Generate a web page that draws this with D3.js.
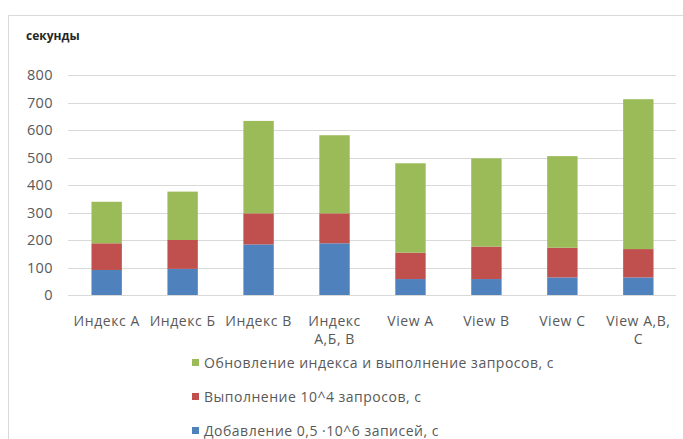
<!DOCTYPE html>
<html>
<head>
<meta charset="utf-8">
<script src="https://cdn.jsdelivr.net/npm/d3@7"></script>
<style>
  html, body { margin: 0; padding: 0; background: #fff; }
  svg { display: block; }
  text { font-family: "Open Sans", Lato, sans-serif; }
</style>
</head>
<body>
<svg id="chart" width="683" height="439"></svg>
<script>
// Categories (multi-line labels are split on "|")
const categories = ["Индекс А", "Индекс Б", "Индекс В", "Индекс|А,Б, В", "View A", "View B", "View C", "View A,B,|C"];

// Stacked segment values, seconds (bottom to top)
const insertTimes = [91, 95, 184, 188, 58, 58, 64, 64];      // Добавление 0,5·10^6 записей
const queryTimes  = [97, 105, 113, 109, 96, 118, 108, 103];  // Выполнение 10^4 запросов
const updateTimes = [151, 176, 336, 284, 325, 321, 333, 545]; // Обновление индекса и выполнение запросов

const yTicks = [0, 100, 200, 300, 400, 500, 600, 700, 800];

const seriesNames = [
  "Добавление 0,5 ·10^6 записей, с",
  "Выполнение 10^4 запросов, с",
  "Обновление индекса и выполнение запросов, с"
];
const seriesColors = ["#4f81bd", "#c0504d", "#9bbb59"];

const svg = d3.select("#chart");

// chart frame
svg.append("path")
  .attr("d", "M8.5,439 V15.5 H683")
  .attr("fill", "none")
  .attr("stroke", "#d9d9d9")
  .attr("stroke-width", 1);

svg.append("text")
  .attr("x", 26).attr("y", 40)
  .attr("font-size", 12).attr("font-weight", "bold")
  .attr("font-family", "Lato, sans-serif")
  .attr("fill", "#262626")
  .text("секунды");

const x = d3.scaleBand()
  .domain(categories)
  .range([68.7, 676.3])
  .paddingInner(0.6)
  .paddingOuter(0.3);

const y = d3.scaleLinear().domain([0, 800]).range([295, 75]);

// gridlines
svg.append("g")
  .selectAll("line")
  .data(yTicks)
  .join("line")
  .attr("x1", 68).attr("x2", 676)
  .attr("y1", d => Math.round(y(d)) + 0.5)
  .attr("y2", d => Math.round(y(d)) + 0.5)
  .attr("stroke", "#d9d9d9");

// y axis labels
const yAxis = d3.axisLeft(y).tickValues(yTicks).tickSize(0).tickPadding(0);
const yg = svg.append("g").attr("transform", "translate(53,0)").call(yAxis);
yg.select(".domain").remove();
yg.selectAll("text")
  .attr("font-size", 14.5)
  .attr("font-family", "'Open Sans', Lato, sans-serif")
  .attr("letter-spacing", 0.4)
  .attr("fill", "#595959");

// stacked bars
const rows = categories.map((c, i) => ({ cat: c, s0: insertTimes[i], s1: queryTimes[i], s2: updateTimes[i] }));
const stack = d3.stack().keys(["s0", "s1", "s2"]);
const layers = stack(rows);

svg.append("g")
  .selectAll("g")
  .data(layers)
  .join("g")
  .attr("fill", (d, i) => seriesColors[i])
  .selectAll("rect")
  .data(d => d)
  .join("rect")
  .attr("x", d => x(d.data.cat))
  .attr("width", x.bandwidth())
  .attr("y", d => y(d[1]))
  .attr("height", d => y(d[0]) - y(d[1]));

// x axis labels
const xAxis = d3.axisBottom(x).tickSize(0).tickPadding(0).tickFormat("");
const xg = svg.append("g").attr("transform", "translate(0,295)").call(xAxis);
xg.select(".domain").remove();
xg.selectAll(".tick").each(function(d) {
  const t = d3.select(this).append("text")
    .attr("text-anchor", "middle")
    .attr("font-size", 14)
    .attr("letter-spacing", 0.55)
    .attr("fill", "#595959");
  d.split("|").forEach((line, k) => {
    t.append("tspan").attr("x", 0).attr("y", 31 + k * 18).text(line);
  });
});

// legend (top to bottom: green, red, blue)
const legendOrder = [2, 1, 0];
const lg = svg.append("g");
legendOrder.forEach((si, k) => {
  const cy = 362.5 + k * 34;
  lg.append("rect")
    .attr("x", 192).attr("y", cy - 3.5)
    .attr("width", 7).attr("height", 7)
    .attr("fill", seriesColors[si]);
  lg.append("text")
    .attr("x", 204).attr("y", cy + 5)
    .attr("font-size", 14)
    .attr("letter-spacing", 0.5)
    .attr("fill", "#595959")
    .text(seriesNames[si]);
});
</script>
</body>
</html>
